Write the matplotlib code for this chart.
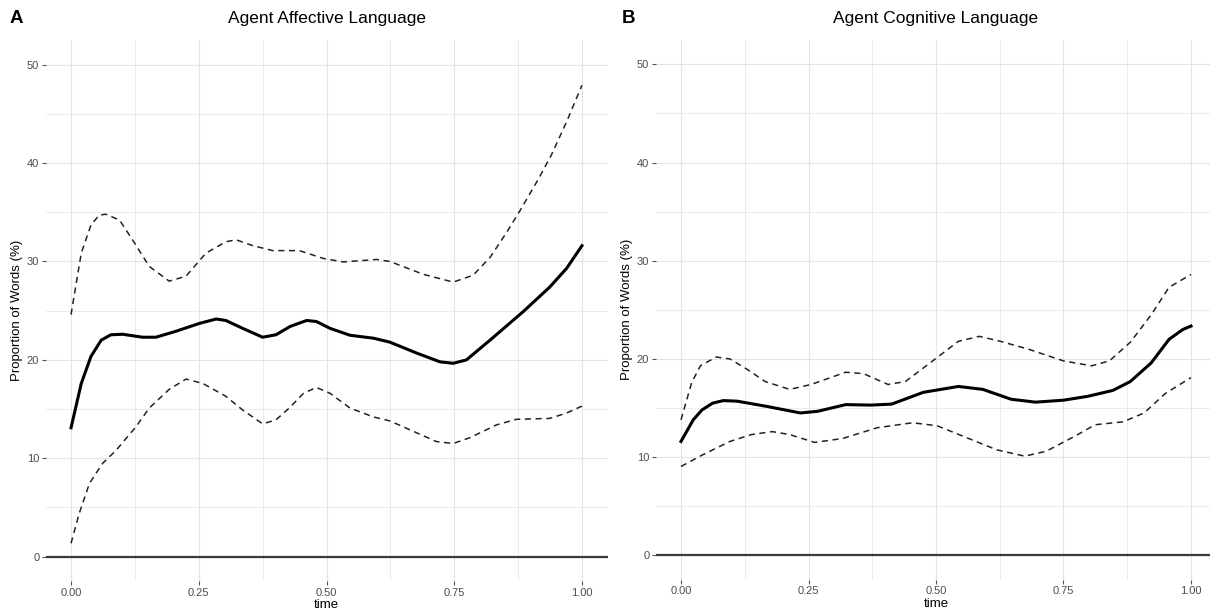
import matplotlib
matplotlib.use("Agg")
import matplotlib.pyplot as plt
import numpy as np

plt.rcParams['font.family'] = ['Liberation Sans', 'DejaVu Sans']

# Panel A: Agent Affective Language
a_mean_t = [0, 0.02, 0.039, 0.059, 0.078, 0.101, 0.14, 0.166, 0.205, 0.251, 0.284,
            0.303, 0.336, 0.375, 0.401, 0.429, 0.461, 0.48, 0.507, 0.546, 0.592,
            0.624, 0.676, 0.722, 0.748, 0.774, 0.82, 0.885, 0.937, 0.97, 1.0]
a_mean = [13.1, 17.6, 20.35, 22.0, 22.55, 22.6, 22.3, 22.3, 22.9, 23.7, 24.15,
          24.0, 23.2, 22.3, 22.55, 23.4, 24.0, 23.9, 23.2, 22.5, 22.2,
          21.8, 20.7, 19.8, 19.65, 20.0, 22.0, 24.9, 27.4, 29.3, 31.6]

a_up_t = [0, 0.02, 0.039, 0.055, 0.068, 0.095, 0.124, 0.153, 0.192, 0.225, 0.264,
          0.303, 0.323, 0.356, 0.395, 0.447, 0.494, 0.533, 0.598, 0.624, 0.689,
          0.748, 0.787, 0.82, 0.852, 0.878, 0.914, 0.94, 0.97, 1.0]
a_up = [24.6, 30.85, 33.7, 34.7, 34.8, 34.2, 31.9, 29.5, 28.0, 28.5, 30.85,
        32.0, 32.2, 31.6, 31.1, 31.1, 30.3, 29.95, 30.2, 30.0, 28.7,
        27.9, 28.6, 30.4, 32.9, 35.1, 38.3, 40.8, 44.2, 47.9]

a_lo_t = [0, 0.016, 0.036, 0.062, 0.088, 0.127, 0.153, 0.192, 0.225, 0.258, 0.303,
          0.336, 0.375, 0.401, 0.427, 0.455, 0.48, 0.507, 0.546, 0.592, 0.624,
          0.676, 0.715, 0.748, 0.781, 0.833, 0.872, 0.937, 0.97, 1.0]
a_lo = [1.36, 4.4, 7.45, 9.5, 10.8, 13.2, 15.1, 17.0, 18.05, 17.6, 16.3,
        14.9, 13.5, 13.9, 15.1, 16.6, 17.2, 16.6, 15.1, 14.2, 13.8,
        12.6, 11.7, 11.5, 12.1, 13.4, 13.96, 14.05, 14.6, 15.3]

# Panel B: Agent Cognitive Language
b_mean_t = [0, 0.024, 0.041, 0.062, 0.083, 0.11, 0.165, 0.234, 0.268, 0.323, 0.372,
            0.413, 0.475, 0.544, 0.592, 0.647, 0.695, 0.75, 0.798, 0.847, 0.881,
            0.922, 0.957, 0.984, 1.0]
b_mean = [11.6, 13.8, 14.8, 15.5, 15.76, 15.7, 15.2, 14.5, 14.67, 15.35, 15.3,
          15.4, 16.6, 17.2, 16.9, 15.9, 15.6, 15.8, 16.2, 16.8, 17.7,
          19.6, 22.0, 23.0, 23.35]

b_up_t = [0, 0.021, 0.038, 0.069, 0.096, 0.131, 0.165, 0.213, 0.255, 0.323, 0.358,
          0.406, 0.44, 0.496, 0.544, 0.585, 0.626, 0.681, 0.75, 0.805, 0.84,
          0.881, 0.922, 0.957, 1.0]
b_up = [13.8, 17.6, 19.3, 20.2, 20.0, 18.9, 17.7, 16.9, 17.4, 18.65, 18.5,
        17.4, 17.7, 19.9, 21.8, 22.3, 21.8, 21.0, 19.8, 19.3, 19.8,
        21.7, 24.5, 27.3, 28.6]

b_lo_t = [0, 0.041, 0.096, 0.138, 0.179, 0.213, 0.262, 0.317, 0.385, 0.454, 0.502,
          0.564, 0.619, 0.674, 0.716, 0.771, 0.812, 0.867, 0.908, 0.95, 1.0]
b_lo = [9.05, 10.2, 11.6, 12.3, 12.6, 12.3, 11.5, 11.9, 13.0, 13.5, 13.2,
        11.9, 10.75, 10.1, 10.6, 12.1, 13.3, 13.6, 14.5, 16.5, 18.1]

panels = [
    ('A', 'Agent Affective Language', a_mean_t, a_mean, a_up_t, a_up, a_lo_t, a_lo),
    ('B', 'Agent Cognitive Language', b_mean_t, b_mean, b_up_t, b_up, b_lo_t, b_lo),
]

fig = plt.figure(figsize=(12.1, 6.12), dpi=100)
W, H = 1210.0, 612.0
# left, right, top, bottom in pixels
boxes = [(45.5, 607.5, 40.0, 581.3), (655.5, 1216.5, 39.8, 579.9)]
tag_x = [10, 622]

for (tag, title, mt, m, ut, u, lt, l), (x0, x1, y0, y1), tx in zip(panels, boxes, tag_x):
    ax = fig.add_axes([x0 / W, 1 - y1 / H, (x1 - x0) / W, (y1 - y0) / H])
    ax.set_xlim(-0.05, 1.05)
    ax.set_ylim(-2.5, 52.5)
    ax.set_xticks([0, 0.25, 0.5, 0.75, 1.0])
    ax.set_xticklabels(['0.00', '0.25', '0.50', '0.75', '1.00'])
    ax.set_yticks([0, 10, 20, 30, 40, 50])
    ax.set_xticks([0.125, 0.375, 0.625, 0.875], minor=True)
    ax.set_yticks([5, 15, 25, 35, 45], minor=True)
    ax.grid(which='major', color='#e4e4e4', linewidth=0.8)
    ax.grid(which='minor', color='#e8e8e8', linewidth=0.6)
    ax.set_axisbelow(True)
    for s in ax.spines.values():
        s.set_visible(False)
    ax.tick_params(which='major', length=3, width=0.8, color='#555555',
                   labelcolor='#4d4d4d', labelsize=8, pad=1.5)
    ax.tick_params(which='minor', length=0)

    ax.axhline(0, color='#3a3a3a', linewidth=1.6, zorder=2)
    ax.plot(ut, u, color='#222222', linewidth=1.1, linestyle=(0, (4, 3)), zorder=3)
    ax.plot(lt, l, color='#222222', linewidth=1.1, linestyle=(0, (4, 3)), zorder=3)
    ax.plot(mt, m, color='black', linewidth=2.2, zorder=4)

    ax.set_xlabel('time', fontsize=9.5, labelpad=1)
    ax.set_ylabel('Proportion of Words (%)', fontsize=9.5, labelpad=3)
    fig.text((x0 + x1) / 2 / W, 1 - 18.5 / H, title, ha='center', va='center', fontsize=12.5)
    fig.text(tx / W, 1 - 18.5 / H, tag, ha='left', va='center', fontsize=13.5, fontweight='bold')

fig.savefig('out.png', dpi=100)
